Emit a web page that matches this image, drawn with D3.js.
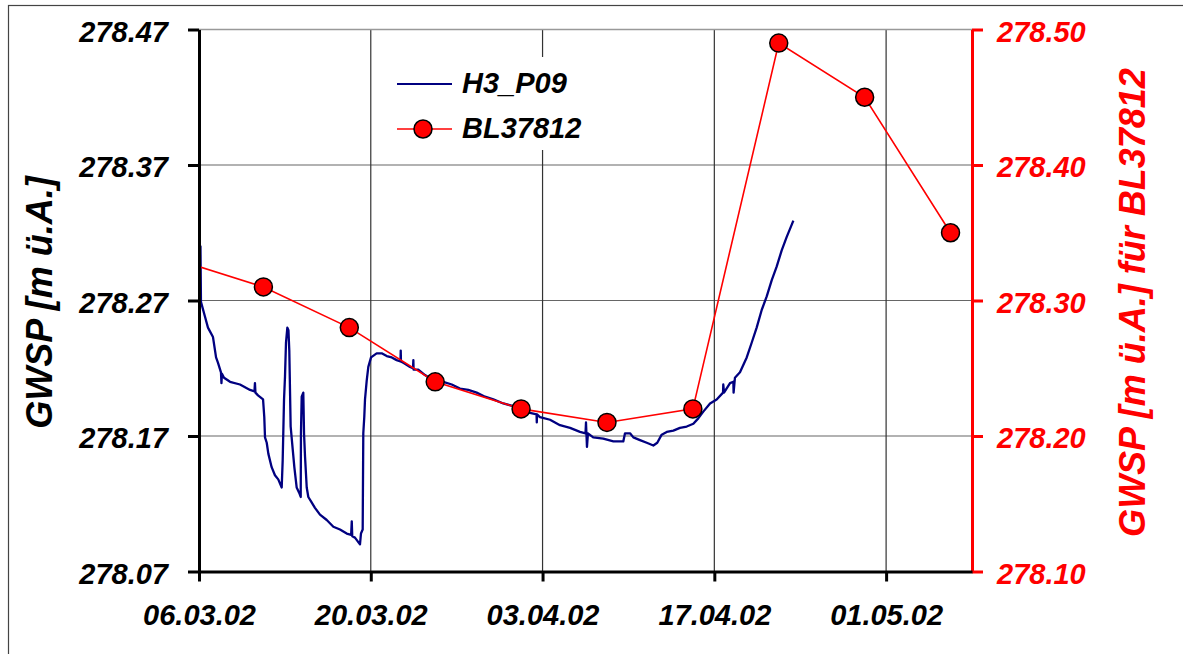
<!DOCTYPE html>
<html>
<head>
<meta charset="utf-8">
<script src="https://cdn.jsdelivr.net/npm/d3@7"></script>
<style>
body { margin: 0; background: #fff; }
text { font-family: "Liberation Sans", Arial, sans-serif; font-weight: bold; font-style: italic; }
</style>
</head>
<body>
<svg id="chart" width="1183" height="654"></svg>
<script>
// X range of the chart and its tick labels
const startDate = "06.03.02";
const endDate = "08.05.02";
const dateTicks = ["06.03.02", "20.03.02", "03.04.02", "17.04.02", "01.05.02"];

// Y axes
const leftTicks = [278.07, 278.17, 278.27, 278.37, 278.47];
const rightTicks = [278.10, 278.20, 278.30, 278.40, 278.50];

// BL37812 (right axis), weekly readings (morning)
const blDates = ["04.03.02 06:00", "11.03.02 06:00", "18.03.02 06:00", "25.03.02 06:00", "01.04.02 06:00",
    "08.04.02 06:00", "15.04.02 06:00", "22.04.02 06:00", "29.04.02 06:00", "06.05.02 06:00"];
const blValues = [278.33, 278.31, 278.28, 278.24, 278.22, 278.21, 278.22, 278.49, 278.45, 278.35];

// H3_P09 (left axis) logger: [days since 06.03.02, value]
const h3Series = [
    [0.04,278.310],[0.12,278.310],[0.16,278.269],[0.49,278.258],[0.73,278.250],[1.14,278.243],[1.39,278.228],
    [1.55,278.224],[1.79,278.217],[1.83,278.209],[1.87,278.216],[2.04,278.213],[2.53,278.210],[3.34,278.208],
    [4.16,278.204],[4.52,278.203],[4.56,278.209],[4.60,278.202],[4.81,278.200],[5.22,278.197],[5.32,278.184],
    [5.38,278.169],[5.52,278.165],[5.65,278.157],[5.92,278.147],[6.19,278.141],[6.46,278.138],[6.74,278.132],
    [6.82,278.152],[6.93,278.197],[7.01,278.214],[7.09,278.239],[7.20,278.250],[7.29,278.248],[7.36,278.233],
    [7.47,278.177],[7.64,278.160],[7.77,278.147],[7.96,278.132],[8.17,278.128],[8.29,278.125],[8.31,278.172],
    [8.37,278.199],[8.50,278.202],[8.56,278.172],[8.64,278.155],[8.78,278.132],[8.91,278.125],[9.18,278.121],
    [9.45,278.117],[9.86,278.112],[10.41,278.108],[10.95,278.103],[11.49,278.101],[12.04,278.098],[12.40,278.097],
    [12.45,278.107],[12.49,278.096],[12.71,278.095],[13.12,278.090],[13.20,278.098],[13.34,278.101],[13.39,278.172],
    [13.47,278.184],[13.53,278.197],[13.67,278.211],[13.80,278.221],[14.02,278.228],[14.48,278.231],[14.89,278.231],
    [15.30,278.229],[15.71,278.228],[16.11,278.226],[16.42,278.225],[16.44,278.233],[16.46,278.225],[16.65,278.224],
    [17.20,278.221],[17.44,278.220],[17.47,278.226],[17.49,278.219],[17.87,278.219],[18.42,278.215],[19.10,278.211],
    [19.91,278.210],[20.60,278.208],[21.27,278.205],[21.95,278.204],[22.63,278.202],[23.31,278.199],[23.99,278.197],
    [24.80,278.194],[25.62,278.192],[26.43,278.189],[26.98,278.187],[27.51,278.186],[27.53,278.180],[27.55,278.186],
    [27.79,278.184],[28.61,278.182],[29.42,278.178],[30.24,278.176],[31.05,278.173],[31.50,278.172],[31.54,278.180],
    [31.62,278.162],[31.70,278.172],[32.13,278.169],[32.95,278.168],[33.77,278.166],[34.58,278.166],[34.72,278.172],
    [35.13,278.172],[35.40,278.169],[35.94,278.167],[36.49,278.165],[37.03,278.163],[37.35,278.165],[37.71,278.171],
    [38.12,278.173],[38.66,278.174],[39.20,278.176],[39.75,278.177],[40.29,278.179],[40.69,278.183],[41.10,278.188],
    [41.65,278.194],[42.19,278.197],[42.71,278.202],[42.73,278.208],[42.79,278.202],[43.28,278.209],[43.55,278.210],
    [43.57,278.202],[43.68,278.213],[44.09,278.217],[44.64,278.228],[45.05,278.239],[45.45,278.250],[45.86,278.263],
    [46.27,278.273],[46.68,278.285],[47.08,278.295],[47.49,278.307],[47.90,278.317],[48.31,278.326],[48.44,278.329]
];

const width = 1183;
const height = 654;
const margin = {top: 29.5, right: 211, bottom: 82.5, left: 199};
const red = "#ff0000";
const navy = "#000080";

const parseDate = d3.timeParse("%d.%m.%y");
const parseDateTime = d3.timeParse("%d.%m.%y %H:%M");
const start = parseDate(startDate);

const x = d3.scaleTime([start, parseDate(endDate)], [margin.left, width - margin.right]);
const yLeft = d3.scaleLinear([leftTicks[0], leftTicks[leftTicks.length - 1]], [height - margin.bottom, margin.top]);
const yRight = d3.scaleLinear([rightTicks[0], rightTicks[rightTicks.length - 1]], [height - margin.bottom, margin.top]);

const svg = d3.select("#chart");

svg.append("rect").attr("width", width).attr("height", height).attr("fill", "#fff");

// Outer frame (only top and left edges visible)
svg.append("rect")
    .attr("x", 8.5).attr("y", 5.5)
    .attr("width", 1400).attr("height", 900)
    .attr("fill", "none").attr("stroke", "#444").attr("stroke-width", 1.2);

svg.append("clipPath").attr("id", "plot-clip")
    .append("rect")
    .attr("x", margin.left).attr("y", margin.top)
    .attr("width", width - margin.right - margin.left)
    .attr("height", height - margin.bottom - margin.top);

// Grid
const grid = svg.append("g");
grid.selectAll(".hgrid")
    .data(leftTicks.slice(1, -1))
    .join("line")
    .attr("x1", margin.left).attr("x2", width - margin.right)
    .attr("y1", d => yLeft(d)).attr("y2", d => yLeft(d))
    .attr("stroke", "#666").attr("stroke-width", 1.2);
grid.selectAll(".vgrid")
    .data(dateTicks.slice(1))
    .join("line")
    .attr("x1", d => x(parseDate(d))).attr("x2", d => x(parseDate(d)))
    .attr("y1", margin.top).attr("y2", height - margin.bottom)
    .attr("stroke", "#333").attr("stroke-width", 1.2);
grid.append("line")
    .attr("x1", margin.left).attr("x2", width - margin.right)
    .attr("y1", margin.top).attr("y2", margin.top)
    .attr("stroke", "#999").attr("stroke-width", 1.5);

// H3_P09 line
const h3Line = d3.line()
    .x(d => x(d3.timeMinute.offset(start, Math.round(d[0] * 1440))))
    .y(d => yLeft(d[1]));

svg.append("path")
    .attr("clip-path", "url(#plot-clip)")
    .attr("fill", "none")
    .attr("stroke", navy)
    .attr("stroke-width", 2.3)
    .attr("stroke-linejoin", "round")
    .attr("d", h3Line(h3Series));

// BL37812 line + markers
const blData = blDates.map((d, i) => ({date: parseDateTime(d), value: blValues[i]}));
const blLine = d3.line().x(d => x(d.date)).y(d => yRight(d.value));

svg.append("path")
    .attr("clip-path", "url(#plot-clip)")
    .attr("fill", "none")
    .attr("stroke", red)
    .attr("stroke-width", 1.6)
    .attr("d", blLine(blData));

svg.append("g")
    .selectAll("circle")
    .data(blData.filter(d => d.date >= start))
    .join("circle")
    .attr("cx", d => x(d.date))
    .attr("cy", d => yRight(d.value))
    .attr("r", 9)
    .attr("fill", red)
    .attr("stroke", "#000")
    .attr("stroke-width", 1.5);

// Legend
const legend = svg.append("g").attr("transform", "translate(385,57)");
legend.append("rect").attr("width", 215).attr("height", 93).attr("fill", "#fff");
legend.append("line")
    .attr("x1", 12).attr("x2", 67).attr("y1", 27).attr("y2", 27)
    .attr("stroke", navy).attr("stroke-width", 2);
legend.append("line")
    .attr("x1", 12).attr("x2", 67).attr("y1", 72).attr("y2", 72)
    .attr("stroke", red).attr("stroke-width", 1.6);
legend.append("circle")
    .attr("cx", 38).attr("cy", 72).attr("r", 9)
    .attr("fill", red).attr("stroke", "#000").attr("stroke-width", 1.5);
legend.append("text").attr("x", 77).attr("y", 36).attr("font-size", 29).text("H3_P09");
legend.append("text").attr("x", 77).attr("y", 81).attr("font-size", 29).text("BL37812");

// Axes
function styleAxis(g, color) {
    g.select(".domain").attr("stroke", color).attr("stroke-width", 3);
    g.selectAll(".tick line").attr("stroke", color).attr("stroke-width", 3);
    g.selectAll(".tick text")
        .attr("fill", color)
        .attr("font-size", 29)
        .attr("font-family", null);
}

svg.append("g")
    .attr("transform", `translate(${margin.left},0)`)
    .call(d3.axisLeft(yLeft).tickValues(leftTicks).tickFormat(d3.format(".2f"))
        .tickSize(11).tickSizeOuter(0).tickPadding(20))
    .call(g => styleAxis(g, "#000"))
    .call(g => g.selectAll(".tick text").attr("dy", "0.4em"));

svg.append("g")
    .attr("transform", `translate(${width - margin.right},0)`)
    .call(d3.axisRight(yRight).tickValues(rightTicks).tickFormat(d3.format(".2f"))
        .tickSize(11).tickSizeOuter(0).tickPadding(14))
    .call(g => styleAxis(g, red))
    .call(g => g.selectAll(".tick text").attr("dy", "0.4em"));

svg.append("g")
    .attr("transform", `translate(0,${height - margin.bottom})`)
    .call(d3.axisBottom(x).tickValues(dateTicks.map(parseDate)).tickFormat(d3.timeFormat("%d.%m.%y"))
        .tickSize(10).tickSizeOuter(0).tickPadding(23))
    .call(g => styleAxis(g, "#000"));

// Axis titles
const midY = (margin.top + height - margin.bottom) / 2 + 2;
svg.append("text")
    .attr("transform", `translate(52,${midY}) rotate(-90)`)
    .attr("text-anchor", "middle")
    .attr("font-size", 36)
    .attr("fill", "#000")
    .text("GWSP [m ü.A.]");

svg.append("text")
    .attr("transform", `translate(1145,${midY}) rotate(-90)`)
    .attr("text-anchor", "middle")
    .attr("font-size", 36)
    .attr("fill", red)
    .text("GWSP [m ü.A.] für BL37812");
</script>
</body>
</html>
